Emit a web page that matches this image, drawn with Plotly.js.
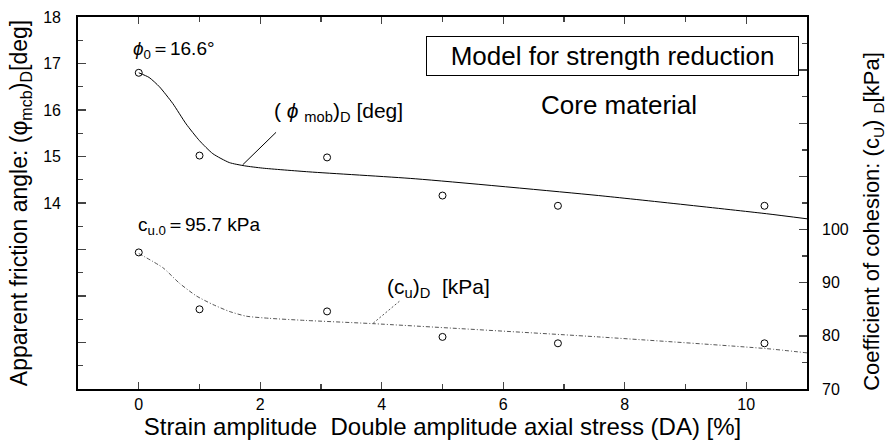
<!DOCTYPE html>
<html>
<head>
<meta charset="utf-8">
<script src="https://cdn.plot.ly/plotly-3.0.1.min.js"></script>
<style>html,body{margin:0;padding:0;background:#fff;}#chart{width:887px;height:445px;}</style>
</head>
<body>
<div id="chart"></div>
<script>
// Measured data points
const strain = [0, 1, 3.1, 5, 6.9, 10.3];
const phiVals = [16.8, 15.02, 14.98, 14.16, 13.94, 13.94];
const cuVals = [95.7, 85.0, 84.6, 79.8, 78.6, 78.6];

// Model curves
const phiCurveX = [0, 0.17, 0.34, 0.56, 0.78, 1.0, 1.22, 1.49, 1.74, 2.04, 2.8, 4.56, 7.57, 10.33, 11];
const phiCurveY = [16.80, 16.70, 16.50, 16.14, 15.70, 15.34, 15.06, 14.87, 14.80, 14.75, 14.67, 14.52, 14.16, 13.77, 13.66];
const cuCurveX = [0, 0.40, 0.67, 0.95, 1.22, 1.49, 1.77, 2.15, 2.75, 3.85, 7.57, 10.33, 11];
const cuCurveY = [95.5, 92.8, 89.9, 87.5, 85.9, 84.6, 83.7, 83.3, 82.9, 82.3, 79.8, 77.6, 76.8];

// Leader lines for labels
const phiLeaderX = [2.26, 1.71];
const phiLeaderY = [15.52, 14.82];
const cuLeaderX = [4.29, 3.85];
const cuLeaderY = [86.5, 82.3];

// Tick labels
const xTicks = [0, 2, 4, 6, 8, 10];
const yTicks = [10, 11, 12, 13, 14, 15, 16, 17, 18];
const yTickText = ['', '', '', '', '14', '15', '16', '17', '18'];
const y2Ticks = [70, 80, 90, 100, 110, 120, 130, 140];
const y2TickText = ['70', '80', '90', '100', '', '', '', ''];

const FONT = 'Liberation Sans, Arial, sans-serif';
const NB = '\u00a0';

const traces = [
  {x: phiCurveX, y: phiCurveY, mode: 'lines', line: {color: '#000', width: 1, shape: 'spline', smoothing: 0.6}, yaxis: 'y', hoverinfo: 'skip'},
  {x: phiLeaderX, y: phiLeaderY, mode: 'lines', line: {color: '#000', width: 1}, yaxis: 'y'},
  {x: strain, y: phiVals, mode: 'markers', marker: {symbol: 'circle-open', size: 7, color: '#000', line: {width: 1, color: '#000'}}, yaxis: 'y'},
  {x: cuCurveX, y: cuCurveY, mode: 'lines', line: {color: '#555', width: 1, dash: '4px,2px,1px,2px', shape: 'spline', smoothing: 0.6}, yaxis: 'y2'},
  {x: cuLeaderX, y: cuLeaderY, mode: 'lines', line: {color: '#555', width: 1, dash: '2px,2px'}, yaxis: 'y2'},
  {x: strain, y: cuVals, mode: 'markers', marker: {symbol: 'circle-open', size: 7, color: '#000', line: {width: 1, color: '#000'}}, yaxis: 'y2'}
];

const layout = {
  width: 887, height: 445,
  margin: {l: 78, r: 80, t: 17, b: 56},
  paper_bgcolor: '#fff', plot_bgcolor: '#fff',
  showlegend: false,
  font: {family: FONT, color: '#000', size: 16},
  xaxis: {
    range: [-1, 11], tickvals: xTicks, ticks: 'inside', ticklen: 7, tickwidth: 1.3,
    showline: true, linewidth: 1.8, linecolor: '#000', mirror: 'ticks', showgrid: false, zeroline: false,
    minor: {dtick: 1, tick0: 0, ticks: 'inside', ticklen: 5, tickwidth: 1.3, showgrid: false},
    tickfont: {size: 16, family: FONT}, ticklabelstandoff: 0,
    title: {text: 'Strain amplitude  Double amplitude axial stress (DA) [%]', font: {size: 24, family: FONT}, standoff: 3}
  },
  yaxis: {
    range: [10, 18], tickvals: yTicks, ticktext: yTickText, ticks: 'inside', ticklen: 8, tickwidth: 1.3,
    showline: true, linewidth: 1.8, linecolor: '#000', showgrid: false, zeroline: false,
    minor: {dtick: 0.5, tick0: 10, ticks: 'inside', ticklen: 5, tickwidth: 1.3, showgrid: false},
    tickfont: {size: 16, family: FONT}, ticklabelstandoff: 12,
    title: {text: 'Apparent friction angle: (φ<sub>mcb</sub>)<sub>D</sub>[deg]' + NB + NB, font: {size: 23, family: FONT}, standoff: 9}
  },
  yaxis2: {
    overlaying: 'y', side: 'right',
    range: [70, 140], tickvals: y2Ticks, ticktext: y2TickText, ticks: 'inside', ticklen: 8, tickwidth: 1.3,
    showline: true, linewidth: 1.8, linecolor: '#000', showgrid: false, zeroline: false,
    minor: {dtick: 5, tick0: 70, ticks: 'inside', ticklen: 5, tickwidth: 1.3, showgrid: false},
    tickfont: {size: 16, family: FONT}, ticklabelstandoff: 10
  },
  annotations: [
    {xref: 'paper', yref: 'paper', x: 1.0905, y: 0.452, xanchor: 'center', yanchor: 'middle', textangle: -90,
     text: 'Coefficient of cohesion: (c<sub>U</sub>) <sub>D</sub>[kPa]', showarrow: false, font: {size: 22, family: FONT}},
    {xref: 'paper', yref: 'paper', x: 0.7332, y: 0.8952, xanchor: 'center', yanchor: 'middle',
     text: 'Model for strength reduction', showarrow: false, font: {size: 26, family: FONT},
     bordercolor: '#000', borderwidth: 1, borderpad: 0, width: 371, height: 38, bgcolor: '#fff'},
    {xref: 'x', yref: 'y', x: 7.9, y: 16.1, xanchor: 'center', yanchor: 'middle',
     text: 'Core material', showarrow: false, font: {size: 26, family: FONT}},
    {xref: 'x', yref: 'y', x: -0.12, y: 17.29, xanchor: 'left', yanchor: 'middle',
     text: '<i>ϕ</i><sub>0</sub>＝16.6°', showarrow: false, font: {size: 19, family: FONT}},
    {xref: 'x', yref: 'y', x: 2.2, y: 15.95, xanchor: 'left', yanchor: 'middle',
     text: '(' + NB + '<i>ϕ</i>' + NB + '<sub>mob</sub>)<sub>D</sub>' + NB + '[deg]', showarrow: false, font: {size: 21, family: FONT}},
    {xref: 'x', yref: 'y2', x: -0.05, y: 100.6, xanchor: 'left', yanchor: 'middle',
     text: 'c<sub>u.0</sub>＝95.7 kPa', showarrow: false, font: {size: 19, family: FONT}},
    {xref: 'x', yref: 'y2', x: 4.05, y: 88.95, xanchor: 'left', yanchor: 'middle',
     text: '(c<sub>u</sub>)<sub>D</sub>' + NB + NB + '[kPa]', showarrow: false, font: {size: 21, family: FONT}}
  ]
};

Plotly.newPlot('chart', traces, layout, {staticPlot: true, displayModeBar: false});
</script>
</body>
</html>
